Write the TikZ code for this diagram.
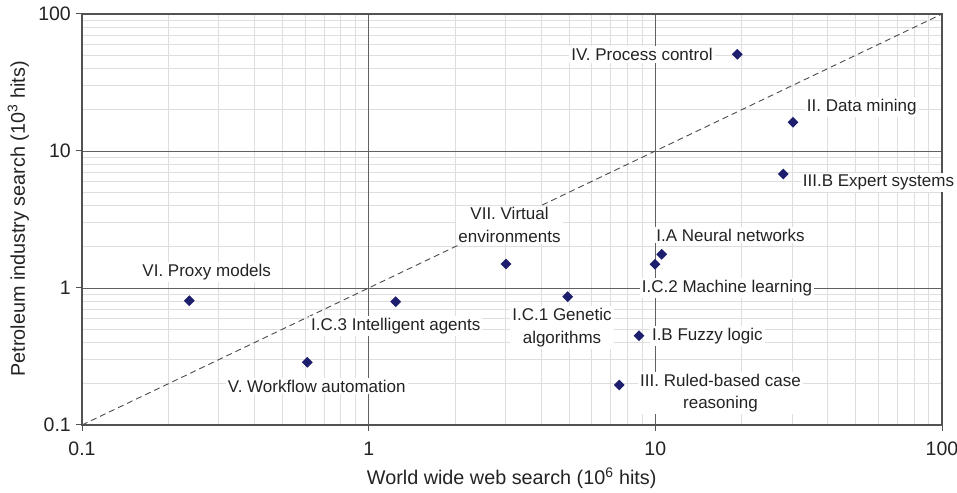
\documentclass[tikz,border=0pt]{standalone}
\usepackage{fontspec}
\setmainfont{Liberation Sans}
\usetikzlibrary{shapes.geometric}
\definecolor{markblue}{RGB}{30,30,110}
\definecolor{txt}{RGB}{35,35,35}
\begin{document}
\begin{tikzpicture}[x=1pt,y=1pt,
  minorgrid/.style={draw=black!13, line width=0.9pt},
  majorgrid/.style={draw=black!62, line width=0.8pt},
  frame/.style={draw=black!68, line width=1.6pt},
  tickmark/.style={draw=black!68, line width=1pt},
  diag/.style={draw=black!70, line width=0.9pt, dash pattern=on 6pt off 4pt},
  datapt/.style={diamond, fill=markblue, inner sep=0pt, minimum width=11pt, minimum height=11pt},
  lbl/.style={fill=white, inner sep=2pt, align=center, text=txt, font=\fontsize{17}{22.5}\selectfont},
  ticklbl/.style={inner sep=2pt, text=txt, font=\fontsize{19.5}{22}\selectfont},
  axtitle/.style={inner sep=0pt, text=txt, font=\fontsize{19.8}{22}\selectfont}]
\useasboundingbox (0,0) rectangle (957,492);
\fill[white] (0,0) rectangle (957,492);
\coordinate (LL) at (82,67);
\coordinate (UR) at (942,478);
% minor grid
\foreach \d in {0,1,2}{
  \foreach \m in {2,...,9}{
    \pgfmathsetmacro\xx{82+286.667*(\d+log10(\m))}
    \pgfmathsetmacro\yy{67+137*(\d+log10(\m))}
    \draw[minorgrid] (\xx,67) -- (\xx,478);
    \draw[minorgrid] (82,\yy) -- (942,\yy);
  }
}
% major grid
\foreach \k in {1,2}{
  \pgfmathsetmacro\xx{82+286.667*\k}
  \pgfmathsetmacro\yy{67+137*\k}
  \draw[majorgrid] (\xx,67) -- (\xx,478);
  \draw[majorgrid] (82,\yy) -- (942,\yy);
}
% frame and ticks
\draw[frame] (LL) rectangle (UR);
\foreach \k in {0,1,2,3}{
  \pgfmathsetmacro\xx{82+286.667*\k}
  \pgfmathsetmacro\yy{67+137*\k}
  \draw[tickmark] (\xx,67) -- (\xx,61);
  \draw[tickmark] (76,\yy) -- (82,\yy);
}
% diagonal
\draw[diag] (LL) -- (UR);
% tick labels
\node[ticklbl, anchor=east] (ty0) at (73,67) {0.1};
\node[ticklbl, anchor=east] (ty1) at (73,204) {1};
\node[ticklbl, anchor=east] (ty2) at (73,341) {10};
\node[ticklbl, anchor=east] (ty3) at (73,478) {100};
\node[ticklbl] (tx0) at (82,43) {0.1};
\node[ticklbl] (tx1) at (368.7,43) {1};
\node[ticklbl] (tx2) at (655.3,43) {10};
\node[ticklbl] (tx3) at (942,43) {100};
% axis titles
\node[axtitle] (xtitle) at (511.7,14) {World wide web search (10\textsuperscript{6} hits)};
\node[axtitle, rotate=90] (ytitle) at (18.3,273) {Petroleum industry search (10\textsuperscript{3} hits)};
% labels
\node[lbl] (lproxy) at (206.7,220.3) {VI. Proxy models};
\node[lbl] (lwork) at (316.8,106) {V. Workflow automation};
\node[lbl] (lagent) at (395.8,166.3) {I.C.3 Intelligent agents};
\node[lbl] (lvirt) at (509.5,267) {VII. Virtual\\environments};
\node[lbl] (lgen) at (562,164.5) {I.C.1 Genetic\\algorithms};
\node[lbl] (lfuzzy) at (707.3,156.3) {I.B Fuzzy logic};
\node[lbl] (lrule) at (720.5,98.7) {III. Ruled-based case\\reasoning};
\node[lbl] (lmach) at (727,204.3) {I.C.2 Machine learning};
\node[lbl] (lneur) at (730.5,257) {I.A Neural networks};
\node[lbl] (lproc) at (642,437.7) {IV. Process control};
\node[lbl] (ldata) at (861.7,385.3) {II. Data mining};
\node[lbl] (lexp) at (878.5,309.3) {III.B Expert systems};
% data points
\node[datapt] (pproxy) at (189.3,191.3) {};
\node[datapt] (pwork) at (307.3,129.7) {};
\node[datapt] (pagent) at (395.7,190.3) {};
\node[datapt] (pvirt) at (506,228) {};
\node[datapt] (pgen) at (567.7,195.3) {};
\node[datapt] (pfuzzy) at (639,156.3) {};
\node[datapt] (prule) at (619.3,107) {};
\node[datapt] (pmach) at (655,227.7) {};
\node[datapt] (pneur) at (661.7,237.7) {};
\node[datapt] (pproc) at (737.3,437.7) {};
\node[datapt] (pdata) at (793,369.7) {};
\node[datapt] (pexp) at (783.3,318) {};
\end{tikzpicture}
\end{document}
